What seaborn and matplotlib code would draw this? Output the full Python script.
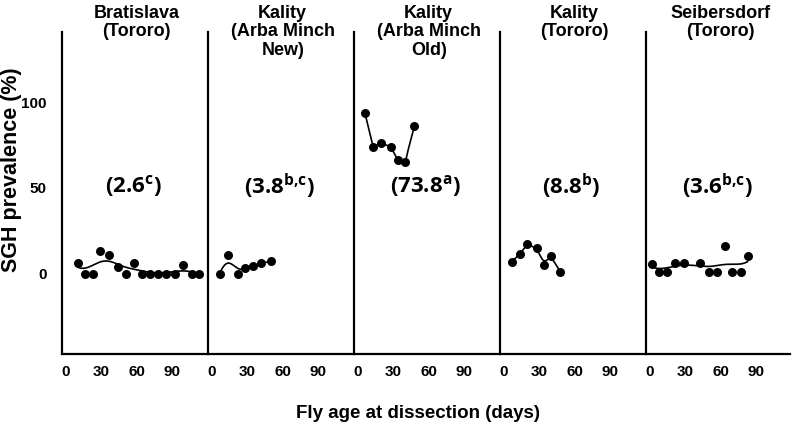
import numpy as np
import pandas as pd
import matplotlib.pyplot as plt
import seaborn as sns

# panel titles and group means (with significance letters)
panel_titles = [
    "Bratislava\n(Tororo)",
    "Kality\n(Arba Minch\nNew)",
    "Kality\n(Arba Minch\nOld)",
    "Kality\n(Tororo)",
    "Seibersdorf\n(Tororo)",
]
panel_labels = [
    r"(2.6$^{\mathbf{c}}$)",
    r"(3.8$^{\mathbf{b{,}c}}$)",
    r"(73.8$^{\mathbf{a}}$)",
    r"(8.8$^{\mathbf{b}}$)",
    r"(3.6$^{\mathbf{b{,}c}}$)",
]

# fly age (days) and SGH prevalence (%) per colony
bratislava_days = [10, 16, 23, 29, 37, 44, 51, 58, 65, 71, 78, 85, 93, 99, 107, 113]
bratislava_sgh = [6, 0, 0, 13, 11, 4, 0, 6, 0, 0, 0, 0, 0, 5, 0, 0]

kality_am_new_days = [7, 14, 22, 28, 35, 42, 50]
kality_am_new_sgh = [0, 11, 0, 3, 4.3, 6, 7.2]

kality_am_old_days = [6, 13, 20, 28, 34, 40, 48]
kality_am_old_sgh = [94, 74, 76, 74, 66, 65, 86]

kality_tororo_days = [7, 14, 20, 28, 34, 40, 48]
kality_tororo_sgh = [7, 11.5, 17.4, 14.8, 5.1, 10.5, 0.8]

seibersdorf_days = [2, 8, 15, 21, 29, 43, 50, 57, 64, 70, 77, 83]
seibersdorf_sgh = [5.4, 0.8, 0.8, 6, 6.4, 6, 0.8, 0.8, 15.8, 0.8, 0.8, 10.5]

all_days = [bratislava_days, kality_am_new_days, kality_am_old_days,
            kality_tororo_days, seibersdorf_days]
all_sgh = [bratislava_sgh, kality_am_new_sgh, kality_am_old_sgh,
           kality_tororo_sgh, seibersdorf_sgh]
bandwidths = [9.5, 5.5, 2.5, 3.5, 11]


def smooth(x, y, h, n=200):
    # local linear kernel regression
    x = np.asarray(x, float)
    y = np.asarray(y, float)
    grid = np.linspace(x.min(), x.max(), n)
    fit = []
    for g in grid:
        w = np.exp(-0.5 * ((x - g) / h) ** 2)
        X = np.column_stack([np.ones_like(x), x - g])
        XtW = X.T * w
        beta = np.linalg.lstsq(XtW @ X, XtW @ y, rcond=None)[0]
        fit.append(beta[0])
    return grid, np.array(fit)


sns.set_style("white")
plt.rcParams["font.family"] = ["Liberation Sans", "DejaVu Sans"]
plt.rcParams["text.color"] = "black"
plt.rcParams["xtick.labelcolor"] = "black"
plt.rcParams["ytick.labelcolor"] = "black"
plt.rcParams["mathtext.fontset"] = "custom"
plt.rcParams["mathtext.bf"] = "Open Sans:bold"
plt.rcParams["mathtext.rm"] = "Open Sans"

fig = plt.figure(figsize=(7.94, 4.34), dpi=100)
W, H = 794, 434
stride, width = 146, 144

for i in range(5):
    left = 61.7 + stride * i
    ax = fig.add_axes([left / W, (H - 354) / H, width / W, 322 / H])
    df = pd.DataFrame({"Day": all_days[i], "SGH": all_sgh[i]})
    gx, gy = smooth(df["Day"], df["SGH"], bandwidths[i])
    sns.lineplot(x=gx, y=gy, ax=ax, color="black", linewidth=1.2, estimator=None)
    sns.scatterplot(data=df, x="Day", y="SGH", ax=ax, color="black", s=42,
                    edgecolor="black", linewidth=0, zorder=3)
    ax.set_xlim(-3.4, 118.6)
    ax.set_ylim(-47, 141)
    ax.set_xticks([0, 30, 60, 90])
    ax.set_yticks([0, 50, 100])
    ax.set_xlabel("")
    ax.set_ylabel("")
    for s in ["top", "right"]:
        ax.spines[s].set_visible(False)
    for s in ["left", "bottom"]:
        ax.spines[s].set_linewidth(1.6)
        ax.spines[s].set_color("black")
    ax.tick_params(axis="x", length=3, width=0.8, color="#d0d0d0", pad=5,
                   labelsize=11)
    ax.tick_params(axis="y", length=0, pad=11, labelsize=11)
    for lab in ax.get_xticklabels() + ax.get_yticklabels():
        lab.set_fontweight("bold")
    if i > 0:
        ax.tick_params(axis="y", labelleft=False)
    ax.text(0.5, 51, panel_labels[i], transform=ax.get_yaxis_transform(),
            ha="center", va="center", fontsize=16, fontweight="bold",
            family=["Open Sans", "DejaVu Sans"])
    fig.text((left + width / 2 + 3) / W, 1 - 5 / H, panel_titles[i],
             ha="center", va="top", fontsize=13, fontweight="bold",
             family=["Liberation Sans Narrow", "Liberation Sans"],
             linespacing=1.1)

fig.text(12 / W, 1 - 170 / H, "SGH prevalence (%)", rotation=90,
         ha="center", va="center", fontsize=15.5, fontweight="bold")
fig.text(418 / W, 1 - 413 / H, "Fly age at dissection (days)",
         ha="center", va="center", fontsize=13.5, fontweight="bold")

fig.savefig("out.png", dpi=100)
